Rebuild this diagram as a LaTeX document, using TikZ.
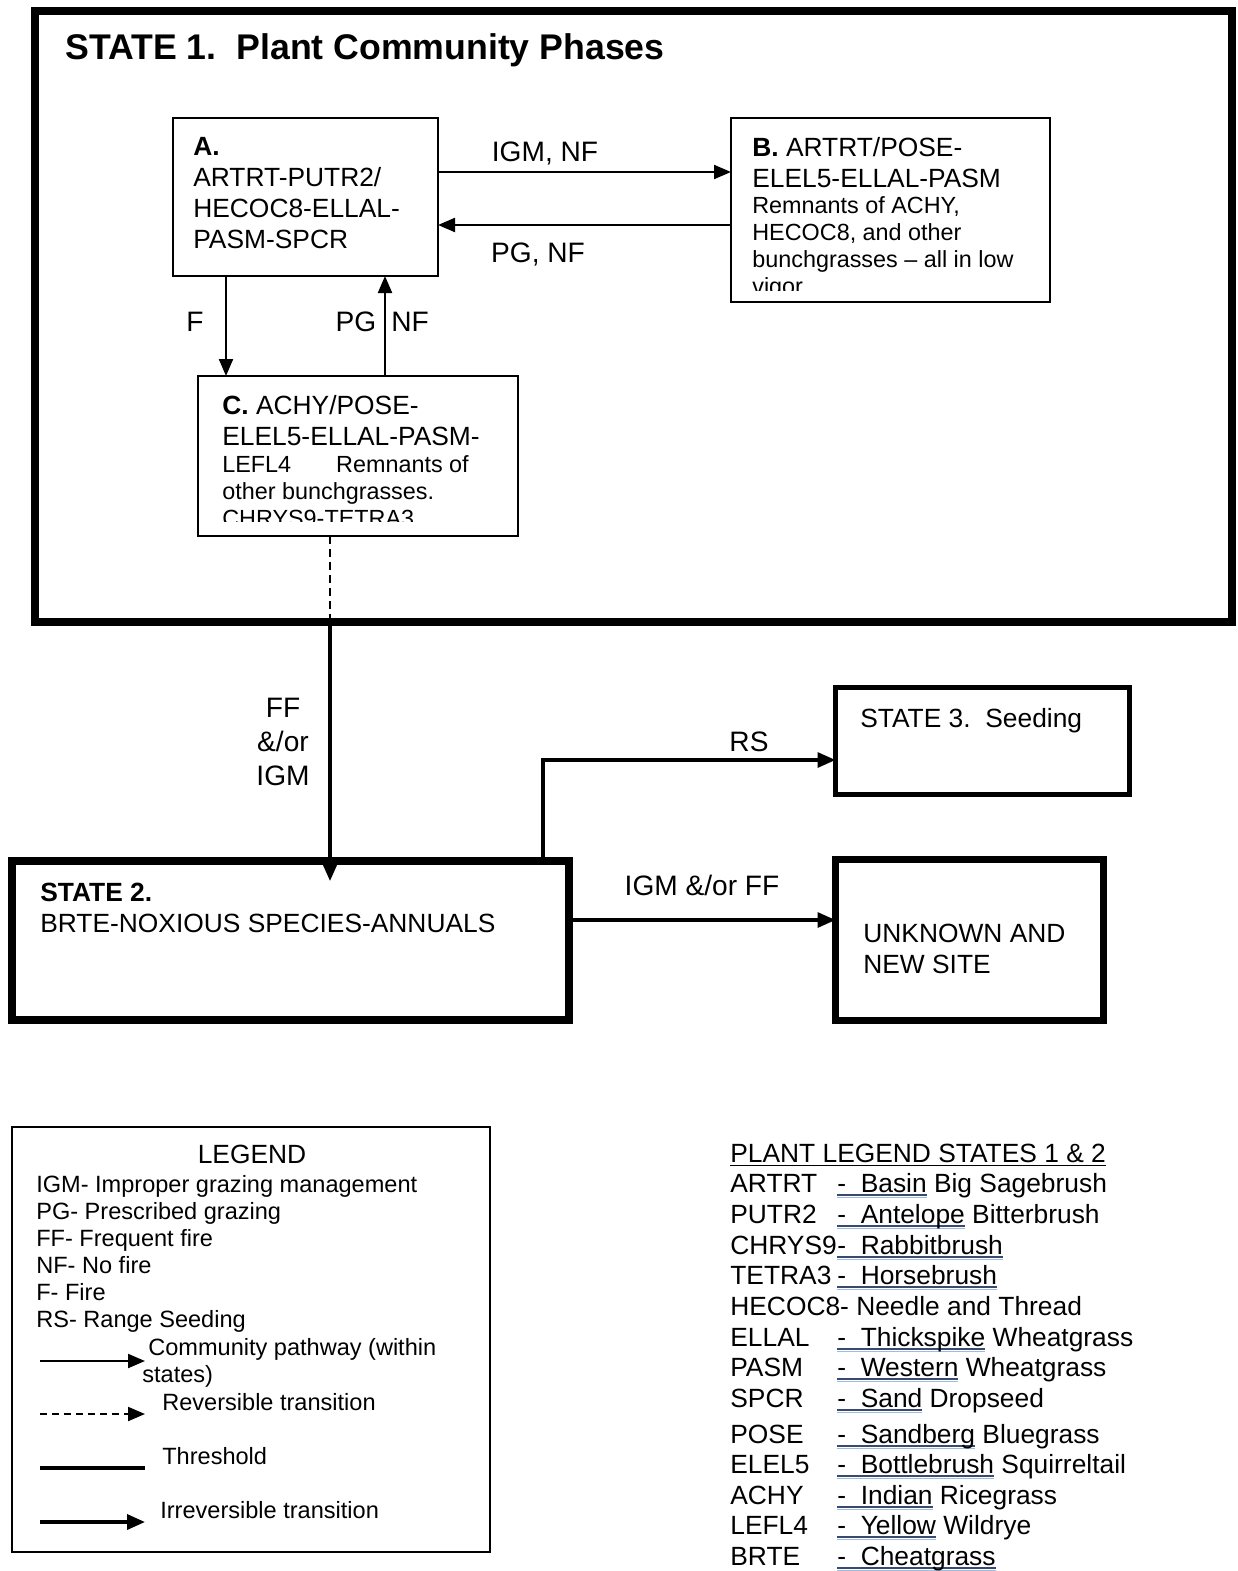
\documentclass[tikz,border=0pt]{standalone}
\usepackage{fontspec}
\setmainfont{Liberation Sans}
\usepackage{tikz}
\usetikzlibrary{arrows.meta,positioning,calc}
\definecolor{UlDark}{HTML}{3A4A6E}
\definecolor{UlBlue}{HTML}{9DBCE2}
\newcommand\statetitlefont{\fontsize{20.3}{24}\selectfont\bfseries}
\newcommand\phasefont{\fontsize{15}{17.6}\selectfont}
\newcommand\notefont{\fontsize{13.3}{15.3}\selectfont}
\newcommand\lblfont{\fontsize{16}{19.3}\selectfont}
\newcommand\legfont{\fontsize{13.4}{15.4}\selectfont}
\newsavebox\ulbox
\newcommand\plantul[1]{\sbox\ulbox{#1}\rlap{\color{UlDark}\rule[-1.8pt]{\wd\ulbox}{0.7pt}}\rlap{\color{UlBlue}\rule[-3.4pt]{\wd\ulbox}{1.1pt}}\usebox\ulbox}

\begin{document}
\begin{tikzpicture}[
  x=0.2mm, y=-0.2mm,
  phasebox/.style={draw,line width=1.1pt,outer sep=0pt,inner sep=0pt},
  statebox/.style={draw,line width=4.5pt,outer sep=0pt,inner sep=0pt},
  txt/.style={anchor=north west,align=left,inner sep=0pt},
  lbl/.style={font=\lblfont,inner sep=0pt},
  pathway/.style={-{Triangle[length=3.4mm,width=2.8mm]},line width=1.2pt},
  irrev/.style={-{Triangle[length=3.6mm,width=3mm]},line width=1.8pt}
]
\useasboundingbox[fill=white] (0,0) rectangle (1237,1571);

% state 1 and its phases
\node[statebox,minimum width=239.4mm,minimum height=122.2mm] (state1) at (633.5,316.5) {};
\node[anchor=west,inner sep=0pt,font=\statetitlefont] (title1) at (65,50) {STATE 1.\ \ Plant Community Phases};

\node[phasebox,minimum width=53mm,minimum height=31.6mm] (phaseA) at (305.5,197) {};
\node[phasebox,minimum width=63.8mm,minimum height=36.8mm] (phaseB) at (890.5,210) {};
\node[phasebox,minimum width=64mm,minimum height=32mm] (phaseC) at (358,456) {};

\node[txt,font=\phasefont] (textA) at (193,137) {\textbf{A.}\\ARTRT-PUTR2/\\HECOC8-ELLAL-\\PASM-SPCR};
\node[txt,font=\phasefont] (textB) at (752,137) {\textbf{B.} ARTRT/POSE-\\ELEL5-ELLAL-PASM};
\begin{scope}
  \clip (phaseB.north west) rectangle ($(phaseB.south east)+(0,-12)$);
  \node[txt,font=\notefont] (noteB) at (752,196.5) {Remnants of ACHY,\\HECOC8, and other\\bunchgrasses – all in low\\vigor};
\end{scope}
\node[txt,font=\phasefont] (textC) at (222,395.5) {\textbf{C.} ACHY/POSE-\\ELEL5-ELLAL-PASM-};
\begin{scope}
  \clip (phaseC.north west) rectangle ($(phaseC.south east)+(0,-15)$);
  \node[txt,font=\notefont] (noteC) at (222,455.5) {LEFL4\hspace{9mm}Remnants of\\other bunchgrasses.\\CHRYS9-TETRA3};
\end{scope}

\coordinate (ab) at ($(phaseA.east)+(0,-25)$);
\coordinate (ba) at ($(phaseA.east)+(0,28)$);
\coordinate (ac) at ($(phaseA.south west)+(53,0)$);
\coordinate (ca) at ($(phaseA.south east)+(-53,0)$);
\draw[pathway] (ab) -- (ab -| phaseB.west);
\draw[pathway] (ba -| phaseB.west) -- (ba);
\draw[pathway] (ac) -- (ac |- phaseC.north);
\draw[pathway] (ca |- phaseC.north) -- (ca);
\node[lbl] (lIGMNF) at (545,153) {IGM, NF};
\node[lbl] (lPGNF) at (538,254) {PG, NF};
\node[lbl] (lF) at (195,322) {F};
\node[lbl] (lPG) at (356,322) {PG};
\node[lbl] (lNF) at (410,322) {NF};

% states 2, 3 and unknown
\node[statebox,minimum width=111.4mm,minimum height=31.8mm] (state2) at (290.5,940.5) {};
\node[statebox,line width=2.85pt,minimum width=58.8mm,minimum height=21.4mm] (state3) at (982.5,741) {};
\node[statebox,line width=4pt,minimum width=53.6mm,minimum height=32.2mm] (unknown) at (969.5,940) {};
\node[txt,font=\phasefont] (text2) at (40,882.5) {\textbf{STATE 2.}\\BRTE-NOXIOUS SPECIES-ANNUALS};
\node[anchor=west,inner sep=0pt,font=\phasefont] (text3) at (860,721) {STATE 3.\ \ Seeding};
\node[txt,font=\phasefont] (textU) at (863,923.5) {UNKNOWN AND\\NEW SITE};

\coordinate (cdash) at ($(phaseC.south)+(-28,0)$);
\coordinate (cross) at (cdash |- state1.south);
\coordinate (rsfoot) at ($(state2.north east)+(-26,0)$);
\coordinate (igmfoot) at ($(state2.east)+(0,-20.5)$);
\draw[dash pattern=on 1.6mm off 1mm,line width=1pt] (cdash) -- (cross);
\draw[irrev] (cross) -- ($(cross |- state2.north)+(0,20)$);
\draw[irrev] (rsfoot) |- ($(state3.west)+(0,19)$);
\draw[irrev] (igmfoot) -- (igmfoot -| unknown.west);
\node[lbl,align=center] (lFF) at (283,742) {FF\\\&/or\\IGM};
\node[lbl] (lRS) at (749,742) {RS};
\node[lbl] (lIGMFF) at (702,885) {IGM \&/or FF};

% legend
\node[phasebox,line width=1pt,minimum width=95.6mm,minimum height=85mm] (legend) at (251,1339.5) {};
\node[font=\phasefont,inner sep=0pt] (legtitle) at (252,1154) {LEGEND};
\node[txt,font=\legfont] (legabbr) at (36,1175) {IGM- Improper grazing management\\PG- Prescribed grazing\\FF- Frequent fire\\NF- No fire\\F- Fire\\RS- Range Seeding};
\coordinate (s1a) at (40,1361); \coordinate (s1b) at (145,1361);
\coordinate (s2a) at (40,1414); \coordinate (s2b) at (145,1414);
\coordinate (s3a) at (40,1468); \coordinate (s3b) at (145,1468);
\coordinate (s4a) at (40,1522); \coordinate (s4b) at (145,1522);
\draw[pathway] (s1a) -- (s1b);
\draw[pathway,dash pattern=on 1.4mm off 1mm] (s2a) -- (s2b);
\draw[line width=2.8pt] (s3a) -- (s3b);
\draw[irrev,line width=2pt] (s4a) -- (s4b);
\node[txt,font=\legfont] (legpath) at (142,1338) {\hspace*{1.2mm}Community pathway (within\\states)};
\node[anchor=west,inner sep=0pt,font=\legfont] (legrev) at (162,1402) {Reversible transition};
\node[anchor=west,inner sep=0pt,font=\legfont] (legthr) at (162,1456) {Threshold};
\node[anchor=west,inner sep=0pt,font=\legfont] (legirr) at (160,1510) {Irreversible transition};

% plant legend
\node[anchor=base west,inner sep=0pt,font=\phasefont] (plantleg) at (730,1162.5) {\underline{PLANT LEGEND STATES 1 \& 2}};
\foreach \y/\code/\ulpart/\rest [count=\i] in {
  1192.5/ARTRT/Basin/Big Sagebrush,
  1223.5/PUTR2/Antelope/Bitterbrush,
  1254.5/CHRYS9/Rabbitbrush/{},
  1284.5/TETRA3/Horsebrush/{},
  1346.5/ELLAL/Thickspike/Wheatgrass,
  1376.5/PASM/Western/Wheatgrass,
  1407.5/SPCR/Sand/Dropseed,
  1443.5/POSE/Sandberg/Bluegrass,
  1473.5/ELEL5/Bottlebrush/Squirreltail,
  1504.5/ACHY/Indian/Ricegrass,
  1534.5/LEFL4/Yellow/Wildrye,
  1565.5/BRTE/Cheatgrass/{}}
  \node[anchor=base west,inner sep=0pt,font=\phasefont] (plant\i) at (730,\y) {\makebox[21.4mm][l]{\code}\plantul{-~~\ulpart}\ \rest};
\node[anchor=base west,inner sep=0pt,font=\phasefont] (plantH) at (730,1315.5) {HECOC8- Needle and Thread};
\end{tikzpicture}
\end{document}
